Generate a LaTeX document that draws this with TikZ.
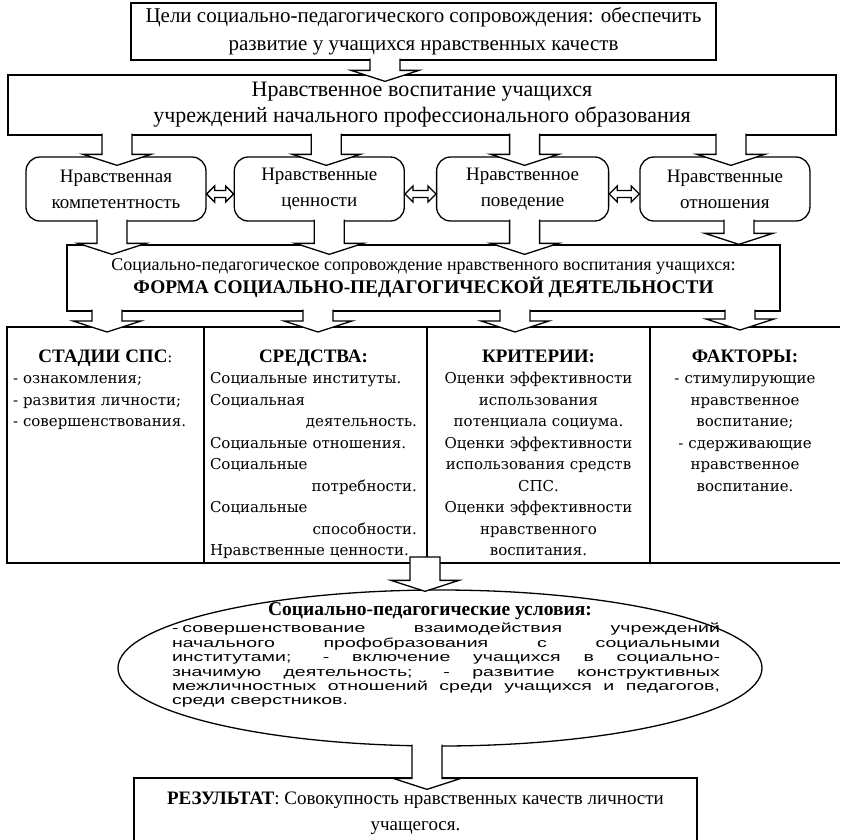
\documentclass[tikz,border=0pt]{standalone}
\usepackage{fontspec}
\setmainfont{Liberation Serif}
\newfontfamily\cellfont{DejaVu Serif}
\newfontfamily\condfont[FakeStretch=1.5]{Liberation Sans}
\usetikzlibrary{positioning,calc,shapes.geometric}

\newcommand{\blockarr}[3][]{%
  \draw[fill=white] let \p1=#2, \p2=#3 in
    (\x1-15pt,\y1) -- (\x1-15pt,\y2+11pt) -- (\x1-34pt,\y2+11pt) -- (\x1,\y2)
    -- (\x1+34pt,\y2+11pt) -- (\x1+15pt,\y2+11pt) -- (\x1+15pt,\y1) #1;}
\newcommand{\dblarr}[2]{%
  \draw[fill=white] let \p1=#1, \p2=#2 in
    (\x1,\y1) -- (\x1+8pt,\y1+8pt) -- (\x1+8pt,\y1+3.5pt) -- (\x2-8pt,\y1+3.5pt)
    -- (\x2-8pt,\y1+8pt) -- (\x2,\y1) -- (\x2-8pt,\y1-8pt) -- (\x2-8pt,\y1-3.5pt)
    -- (\x1+8pt,\y1-3.5pt) -- (\x1+8pt,\y1-8pt) -- cycle;}
\newcommand{\colhead}[1]{{\rmfamily\bfseries\fontsize{19}{21.5}\selectfont #1}}
\newcommand{\rline}[1]{\makebox[\linewidth][r]{#1}}

\begin{document}
\begin{tikzpicture}[x=1pt,y=1pt,node distance=0pt,line width=1.3pt,
   plain/.style={draw,align=center,inner sep=0pt},
   soft/.style={draw,rounded corners=14pt,align=center,inner sep=0pt,
     minimum height=64pt,font=\fontsize{19}{26}\selectfont},
   cell/.style={draw,minimum height=236pt,inner sep=0pt,outer sep=0pt},
   celltext/.style={anchor=north,inner sep=0pt,
     font=\cellfont\fontsize{15}{21.5}\selectfont}]
   \useasboundingbox (0,0) rectangle (844,-839);
   \node[plain,minimum width=585pt,minimum height=57pt,font=\fontsize{21}{28}\selectfont]
     (goal) at (423.5,-31.5) {Цели социально-педагогического сопровождения: обеспечить\\
     развитие у учащихся нравственных качеств};
   \node[plain,minimum width=828pt,minimum height=60pt,font=\fontsize{22}{26}\selectfont]
     (upbr) at (422,-105) {Нравственное воспитание учащихся\\
     учреждений начального профессионального образования};
   \node[soft,minimum width=180pt] (comp) at (116,-189) {Нравственная\\компетентность};
   \node[soft,minimum width=170pt] (vals) [right=27pt of comp] {Нравственные\\ценности};
   \node[soft,minimum width=172pt] (behav) [right=31pt of vals] {Нравственное\\поведение};
   \node[soft,minimum width=170pt] (rel) [right=30pt of behav] {Нравственные\\отношения};
   \node[plain,minimum width=713pt,minimum height=66pt,font=\fontsize{18}{23}\selectfont]
     (form) at (423.5,-278) {Социально-педагогическое сопровождение нравственного воспитания учащихся:\\
     {\bfseries\fontsize{19.3}{23}\selectfont ФОРМА СОЦИАЛЬНО-ПЕДАГОГИЧЕСКОЙ ДЕЯТЕЛЬНОСТИ}};

   \node[cell,minimum width=197pt] (c1) at (105.5,-445) {};
   \node[cell,minimum width=223pt] (c2) [right=of c1] {};
   \node[cell,minimum width=223pt] (c3) [right=of c2] {};
   \node[cell,draw=none,minimum width=190pt] (c4) [right=of c3] {};
   \draw (c4.north west) -- (c4.north east) (c4.south west) -- (c4.south east);
   \node[celltext,text width=185pt,align=left] (t1) at ($(c1.north)+(0,-22)$)
     {\makebox[\linewidth]{\colhead{СТАДИИ СПС}:}\\- ознакомления;\\
     - развития личности;\\- совершенствования.};
   \node[celltext,text width=207pt,align=left] (t2) at ($(c2.north)+(-2,-22)$)
     {\makebox[\linewidth]{\colhead{СРЕДСТВА:}}\\Социальные институты.\\Социальная\\
     \rline{деятельность.}\\Социальные отношения.\\Социальные\\
     \rline{потребности.}\\Социальные\\\rline{способности.}\\
     Нравственные ценности.};
   \node[celltext,text width=215pt,align=center] (t3) at ($(c3.north)+(0,-22)$)
     {\colhead{КРИТЕРИИ:}\\Оценки эффективности\\использования\\потенциала социума.\\
     Оценки эффективности\\использования средств\\СПС.\\Оценки эффективности\\
     нравственного\\воспитания.};
   \node[celltext,text width=185pt,align=center] (t4) at ($(c4.north)+(0,-22)$)
     {\colhead{ФАКТОРЫ:}\\- стимулирующие\\нравственное\\воспитание;\\
     - сдерживающие\\нравственное\\воспитание.};

   \node[ellipse,draw,minimum width=644pt,minimum height=156pt,inner sep=0pt]
     (cond) at (440,-668) {};
   \node[text width=548pt,inner sep=0pt,align=justify,
     font=\condfont\fontsize{13}{14.4}\selectfont] (condtxt) at (446,-655)
     {\makebox[\linewidth]{\hspace{-32pt}\rmfamily\bfseries\fontsize{19.5}{14.4}\selectfont
     Социально-педагогические условия:}\\[3pt]
     -\hspace{0.3em}совершенствование взаимодействия учреждений\linebreak
     начального профобразования с социальными\linebreak
     институтами; - включение учащихся в социально-\linebreak
     значимую деятельность; - развитие конструктивных\linebreak
     межличностных отношений среди учащихся и педагогов,\linebreak
     среди сверстников.};

   \node[plain,minimum width=563pt,minimum height=71pt,font=\fontsize{19}{26}\selectfont]
     (res) at (415.5,-813.5) {\textbf{РЕЗУЛЬТАТ}: Совокупность нравственных качеств личности\\
     учащегося.};

   \blockarr{($(goal.south)+(-38.5,2)$)}{($(upbr.north)+(0,-7)$)}
   \blockarr{($(upbr.south -| comp)+(1,2)$)}{($(comp.north)+(0,-9)$)}
   \blockarr{($(upbr.south -| vals)+(7,2)$)}{($(vals.north)+(0,-9)$)}
   \blockarr{($(upbr.south -| behav)+(2,2)$)}{($(behav.north)+(0,-9)$)}
   \blockarr{($(upbr.south -| rel)+(6,2)$)}{($(rel.north)+(0,-9)$)}
   \blockarr{($(comp.south)+(-4,2)$)}{($(form.north)+(0,-10)$)}
   \blockarr{($(vals.south)+(10,2)$)}{($(form.north)+(0,-10)$)}
   \blockarr{($(behav.south)+(2,2)$)}{($(form.north)+(0,-10)$)}
   \blockarr{($(rel.south)+(14,2)$)}{($(form.north)+(0,0)$)}
   \blockarr{($(form.south -| c1)+(1.5,2)$)}{($(c1.north)+(0,-5)$)}
   \blockarr{($(form.south -| c2)+(2.5,2)$)}{($(c2.north)+(0,-5)$)}
   \blockarr{($(form.south -| c3)+(-23.5,2)$)}{($(c3.north)+(0,-5)$)}
   \blockarr{($(form.south -| c4)+(-5,2)$)}{($(c4.north)+(0,-3)$)}
   \blockarr[-- cycle]{($(c2.south east)+(-2,6)$)}{($(cond.north)+(0,-2)$)}
   \blockarr{($(cond.south)+(-13,2)$)}{($(res.north)+(0,-12)$)}
   \dblarr{($(comp.east)+(0,-5)$)}{($(vals.west)+(0,-5)$)}
   \dblarr{($(vals.east)+(0,-5)$)}{($(behav.west)+(0,-5)$)}
   \dblarr{($(behav.east)+(0,-5)$)}{($(rel.west)+(0,-5)$)}
\end{tikzpicture}
\end{document}
